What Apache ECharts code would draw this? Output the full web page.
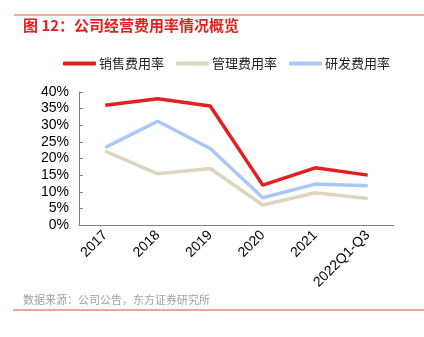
<!DOCTYPE html>
<html><head><meta charset="utf-8">
<script src="https://cdn.jsdelivr.net/npm/echarts@6/dist/echarts.min.js"></script>
<style>html,body{margin:0;padding:0;background:#fff}#c{width:424px;height:337px}</style>
</head><body><div id="c"></div>
<script>
var categories = ['2017','2018','2019','2020','2021','2022Q1-Q3'];
var salesRate = [36.0, 38.0, 35.8, 12.0, 17.2, 15.0];
var mgmtRate = [22.2, 15.4, 17.0, 6.0, 9.7, 8.0];
var rdRate = [23.3, 31.2, 23.0, 8.2, 12.3, 11.8];
var yTicks = ['0%','5%','10%','15%','20%','25%','30%','35%','40%'];
var seriesNames = ['销售费用率','管理费用率','研发费用率'];
var colors = ['#E3201D','#DED5C0','#A9C8F8'];

var chart = echarts.init(document.getElementById('c'), null, {renderer:'canvas'});
var font = '"Liberation Sans","Noto Sans CJK SC",sans-serif';
var data = [salesRate, mgmtRate, rdRate];
chart.setOption({
  animation:false,
  textStyle:{fontFamily:font},
  graphic:[
    {type:'line', shape:{x1:14,y1:15,x2:424,y2:15}, style:{stroke:'#F08C8C',lineWidth:1.5}},
    {type:'text', left:23, top:18, style:{text:'图 12：公司经营费用率情况概览', fill:'#E3201D', font:'bold 15px "Noto Sans CJK SC",sans-serif'}},
    {type:'text', left:23, top:294, style:{text:'数据来源：公司公告，东方证券研究所', fill:'#A0A0A0', font:'11px "Noto Sans CJK SC",sans-serif'}},
    {type:'line', shape:{x1:13,y1:310,x2:424,y2:310}, style:{stroke:'#F0403C',lineWidth:1.2}}
  ],
  legend:{
    top:52, left:58, itemWidth:33, itemHeight:4, itemGap:12,
    icon:'roundRect',
    textStyle:{fontSize:13, color:'#222', fontFamily:'"Noto Sans CJK SC",sans-serif', padding:[0,0,0,-2]},
    data:seriesNames
  },
  grid:{left:79, right:30, top:92, bottom:112, containLabel:false},
  xAxis:{
    type:'category', data:categories, boundaryGap:true,
    axisLine:{lineStyle:{color:'#808080',width:1}},
    axisTick:{inside:true, length:4, lineStyle:{color:'#808080'}},
    axisLabel:{rotate:45, fontSize:14, color:'#000', margin:8, interval:0}
  },
  yAxis:{
    type:'value', min:0, max:40, interval:5,
    axisLine:{show:true, lineStyle:{color:'#808080',width:1}},
    axisTick:{show:true, inside:true, length:4, lineStyle:{color:'#808080'}},
    splitLine:{show:false},
    axisLabel:{fontSize:14, color:'#000', margin:10, formatter:function(v){return yTicks[v/5];}}
  },
  series: seriesNames.map(function(n,i){
    return {name:n, type:'line', data:data[i], symbol:'none', color:colors[i],
      lineStyle:{width:3.5, color:colors[i]}, z:3-i};
  })
});
</script></body></html>
